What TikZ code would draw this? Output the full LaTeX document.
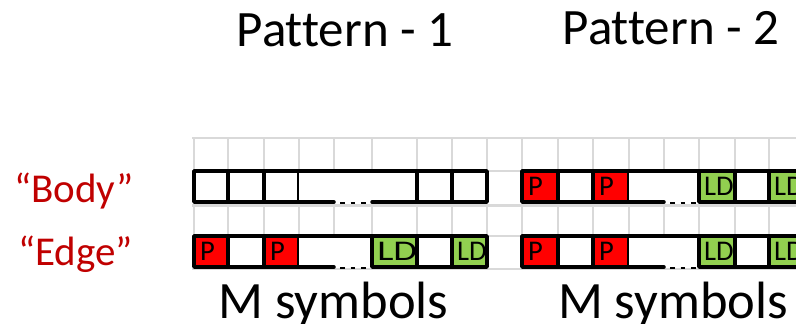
\documentclass[tikz,border=0pt]{standalone}
\usepackage{fontspec}
\setmainfont{Carlito}[Ligatures={NoCommon}]
\definecolor{gridgray}{HTML}{D9D9D9}
\definecolor{labelred}{HTML}{C00000}
\definecolor{pred}{HTML}{FF0000}
\definecolor{ldgreen}{HTML}{92D050}

\begin{document}
\begin{tikzpicture}[x=1pt,y=-1pt,
  gridline/.style={gridgray, line width=2.3pt},
  edgeline/.style={black, line width=3.5pt, line cap=round},
  dotline/.style={black, line width=2.2pt, dash pattern=on 4.5pt off 6pt},
  cellbox/.style={draw=black, line width=3.5pt, line join=round, fill=white,
    inner sep=0pt, outer sep=0pt, anchor=north west, minimum height=31pt},
  mergedbox/.style={draw=none, fill=white, inner sep=0pt, outer sep=0pt,
    anchor=north west, minimum height=31pt},
  celltext/.style={anchor=west, inner sep=0pt, font=\fontsize{28.5}{32}\selectfont},
  qlabel/.style={anchor=base, inner sep=0pt, text=labelred, font=\fontsize{41}{48}\selectfont},
  title/.style={anchor=base, inner sep=0pt, font=\fontsize{51}{60}\selectfont},
  caption/.style={anchor=base, inner sep=0pt, font=\fontsize{52.5}{62}\selectfont}]

\useasboundingbox (0,0) rectangle (796,324);

% light grey table grid
\foreach \y in {138,171,205.5,236,269}
  \draw[gridline] (192,\y) -- (796,\y);
\foreach \x in {194,228,264,299,334,372,417,452,487,522,558,593,629,664,699,735,769}
  \draw[gridline] (\x,137) -- (\x,270);

% ---------- Pattern 1, body row ----------
\node[cellbox, minimum width=34pt] (a1) at (194,171) {};
\node[cellbox, minimum width=36pt] (a2) at (228,171) {};
\node[cellbox, minimum width=35pt] (a3) at (264,171) {};
\node[mergedbox, minimum width=118pt] (a4) at (299,171) {};
\node[cellbox, minimum width=35pt] (a5) at (417,171) {};
\node[cellbox, minimum width=35pt] (a6) at (452,171) {};
\draw[edgeline] (a4.north west) -- (a4.north east);
\draw[edgeline] (a4.south west) -- ++(35,0);
\draw[edgeline] (a4.south east) -- ++(-45,0);
\draw[dotline] ([xshift=41pt,yshift=-1pt]a4.south west) -- ++(26,0);

% ---------- Pattern 1, edge row ----------
\node[cellbox, fill=pred, minimum width=34pt] (b1) at (194,236) {};
\node[cellbox, minimum width=36pt] (b2) at (228,236) {};
\node[cellbox, fill=pred, minimum width=35pt] (b3) at (264,236) {};
\node[mergedbox, minimum width=73pt] (b4) at (299,236) {};
\node[cellbox, fill=ldgreen, minimum width=45pt] (b5) at (372,236) {};
\node[cellbox, minimum width=35pt] (b6) at (417,236) {};
\node[cellbox, fill=ldgreen, minimum width=35pt] (b7) at (452,236) {};
\draw[edgeline] (b4.north west) -- (b4.north east);
\draw[edgeline] (b4.south west) -- ++(35,0);
\draw[dotline] ([xshift=41pt,yshift=-1pt]b4.south west) -- ++(26,0);
\node[celltext] (tb1) at ([xshift=6pt]b1.west) {P};
\node[celltext] (tb3) at ([xshift=6pt]b3.west) {P};
\node[celltext, xscale=1.35] (tb5) at ([xshift=5pt]b5.west) {LD};
\node[celltext] (tb7) at ([xshift=5pt]b7.west) {LD};

% ---------- Pattern 2, both rows ----------
\foreach \r/\y in {c/171,d/236}{
  \node[cellbox, fill=pred, minimum width=36pt] (\r1) at (522,\y) {};
  \node[cellbox, minimum width=35pt] (\r2) at (558,\y) {};
  \node[cellbox, fill=pred, minimum width=36pt] (\r3) at (593,\y) {};
  \node[mergedbox, minimum width=70pt] (\r4) at (629,\y) {};
  \node[cellbox, fill=ldgreen, minimum width=36pt] (\r5) at (699,\y) {};
  \node[cellbox, minimum width=34pt] (\r6) at (735,\y) {};
  \node[cellbox, fill=ldgreen, minimum width=36pt] (\r7) at (769,\y) {};
  \draw[edgeline] (\r4.north west) -- (\r4.north east);
  \draw[edgeline] (\r4.south west) -- ++(35,0);
  \draw[dotline] ([xshift=41pt,yshift=-1pt]\r4.south west) -- ++(26,0);
  \node[celltext] (t\r1) at ([xshift=6pt]\r1.west) {P};
  \node[celltext] (t\r3) at ([xshift=6pt]\r3.west) {P};
  \node[celltext] (t\r5) at ([xshift=5pt]\r5.west) {LD};
  \node[celltext] (t\r7) at ([xshift=5pt]\r7.west) {LD};
}

% row labels
\node[qlabel] (body) at (74,202) {“Body”};
\node[qlabel] (edge) at (75.5,265) {“Edge”};

% titles and captions
\node[title] (pat1) at (345,46) {Pattern - 1};
\node[title] (pat2) at (671,45) {Pattern - 2};
\node[caption] (msym1) at (333.5,318) {M symbols};
\node[caption] (msym2) at (673,318) {M symbols};
\end{tikzpicture}
\end{document}
